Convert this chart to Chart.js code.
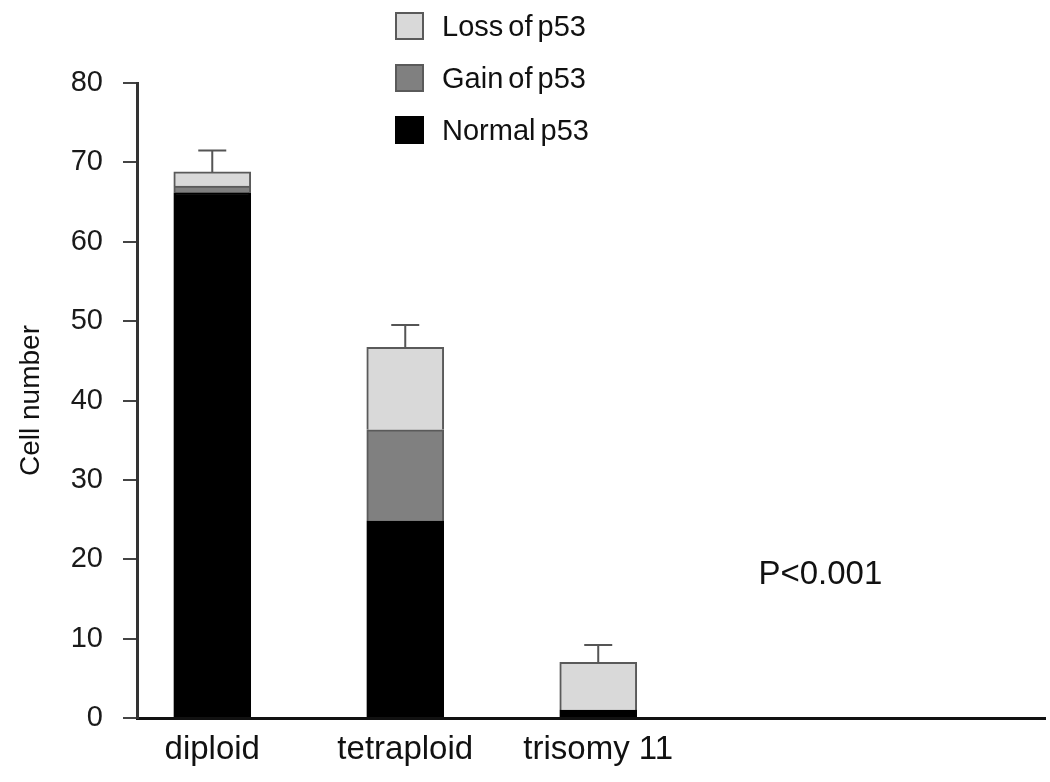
<!DOCTYPE html>
<html>
<head>
<meta charset="utf-8">
<script src="https://cdn.jsdelivr.net/npm/chart.js@4/dist/chart.umd.min.js"></script>
<style>
  body { margin: 0; background: #fff; }
  #wrap { position: relative; width: 1050px; height: 782px; }
  #legend { position: absolute; left: 395px; top: 12px; font-family: "Liberation Sans", Arial, sans-serif; font-size: 29px; color: #111; }
  .item { display: flex; align-items: center; height: 28px; margin-bottom: 24px; word-spacing: -3px; }
  .box { width: 25px; height: 24px; border: 2px solid #5a5a5a; margin-right: 18px; }
</style>
</head>
<body>
<div id="wrap">
  <canvas id="chart"></canvas>
  <div id="legend"></div>
</div>
<script>
// Cell counts per karyotype group
const categories = ["diploid", "tetraploid", "trisomy 11"];
const normalP53 = [66.2, 24.8, 1.0];
const gainP53 = [0.8, 11.5, 0];
const lossP53 = [1.8, 10.4, 6.0];
const errors = [2.7, 2.8, 2.2];
const yTicks = [0, 10, 20, 30, 40, 50, 60, 70, 80];
const pText = "P<0.001";

const series = [
  { label: "Normal p53", data: normalP53, fill: "#000000", border: "#000000" },
  { label: "Gain of p53", data: gainP53, fill: "#808080", border: "#5a5a5a" },
  { label: "Loss of p53", data: lossP53, fill: "#d9d9d9", border: "#5a5a5a" }
];

// legend, top entry first
const legend = document.getElementById('legend');
series.slice().reverse().forEach(s => {
  const row = document.createElement('div');
  row.className = 'item';
  row.innerHTML = '<div class="box" style="background:' + s.fill + ';border-color:' + s.border + '"></div><span>' + s.label + '</span>';
  legend.appendChild(row);
});

Chart.defaults.font.family = '"Liberation Sans", Arial, sans-serif';
Chart.defaults.color = '#1a1a1a';

// error bars on top of each stack + p-value text
const extras = {
  id: 'extras',
  afterDatasetsDraw(chart) {
    const ctx = chart.ctx;
    const xs = chart.scales.x, ys = chart.scales.y;
    ctx.save();
    ctx.strokeStyle = '#555';
    ctx.lineWidth = 2;
    categories.forEach((c, i) => {
      const total = normalP53[i] + gainP53[i] + lossP53[i];
      const x = xs.getPixelForValue(i);
      const y0 = ys.getPixelForValue(total);
      const y1 = ys.getPixelForValue(total + errors[i]);
      ctx.beginPath();
      ctx.moveTo(x, y0);
      ctx.lineTo(x, y1);
      ctx.moveTo(x - 14, y1);
      ctx.lineTo(x + 14, y1);
      ctx.stroke();
    });
    ctx.fillStyle = '#111';
    ctx.font = '33px "Liberation Sans", Arial, sans-serif';
    ctx.textAlign = 'left';
    ctx.textBaseline = 'middle';
    ctx.fillText(pText, xs.getPixelForValue(2.83), ys.getPixelForValue(18));
    ctx.restore();
  }
};

new Chart(document.getElementById('chart'), {
  type: 'bar',
  data: {
    datasets: series.map(s => ({
      label: s.label,
      data: s.data.map((v, i) => ({ x: i, y: v })),
      backgroundColor: s.fill,
      borderColor: s.border,
      borderWidth: 2,
      barThickness: 77
    }))
  },
  options: {
    responsive: true,
    maintainAspectRatio: false,
    animation: false,
    layout: { padding: { top: 83, right: 5, left: 0, bottom: 0 } },
    plugins: { legend: { display: false }, tooltip: { enabled: false } },
    scales: {
      x: {
        type: 'linear',
        stacked: true,
        offset: false,
        bounds: 'data',
        min: -0.39,
        max: 4.315,
        afterBuildTicks: scale => { scale.ticks = categories.map((c, i) => ({ value: i })); },
        afterFit: scale => { scale.height = 64; },
        ticks: {
          padding: 12,
          font: { size: 33 },
          color: '#111',
          maxRotation: 0,
          autoSkip: false,
          callback: v => categories[v] || ''
        },
        grid: { display: true, offset: false, drawOnChartArea: false, drawTicks: false },
        border: { display: true, color: '#111', width: 3 }
      },
      y: {
        stacked: true,
        min: 0,
        max: 80,
        afterBuildTicks: scale => { scale.ticks = yTicks.map(v => ({ value: v })); },
        afterFit: scale => { scale.width = 137; },
        ticks: { padding: 20, font: { size: 29 }, color: '#1a1a1a' },
        grid: { drawOnChartArea: false, drawTicks: true, tickLength: 14, color: '#444', lineWidth: 2 },
        border: { display: true, color: '#333', width: 3 },
        title: { display: true, text: 'Cell number', font: { size: 28 }, color: '#111', padding: { top: 14, bottom: 0 } }
      }
    }
  },
  plugins: [extras]
});
</script>
</body>
</html>
